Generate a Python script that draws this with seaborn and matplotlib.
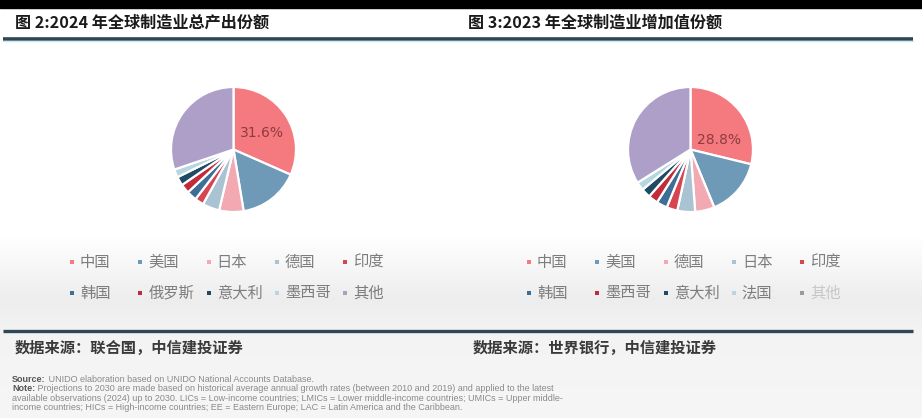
import numpy as np
import matplotlib
matplotlib.use("Agg")
import matplotlib.pyplot as plt
import seaborn as sns

# ---------------- data ----------------
title_1 = "图 2:2024 年全球制造业总产出份额"
title_2 = "图 3:2023 年全球制造业增加值份额"
labels_1 = ["中国", "美国", "日本", "德国", "印度", "韩国", "俄罗斯", "意大利", "墨西哥", "其他"]
values_1 = [31.6, 15.8, 6.3, 4.4, 2.3, 2.6, 2.4, 2.3, 2.1, 30.2]
labels_2 = ["中国", "美国", "德国", "日本", "印度", "韩国", "墨西哥", "意大利", "法国", "其他"]
values_2 = [28.8, 15.0, 5.0, 4.6, 2.8, 2.8, 2.5, 2.4, 2.2, 33.9]
highlight_1 = "31.6%"
highlight_2 = "28.8%"
source_1 = "数据来源：联合国，中信建投证券"
source_2 = "数据来源：世界银行，中信建投证券"
note_lines = [
    ("Source:", " UNIDO elaboration based on UNIDO National Accounts Database."),
    ("Note:", " Projections to 2030 are made based on historical average annual growth rates (between 2010 and 2019) and applied to the latest"),
    ("", "available observations (2024) up to 2030. LICs = Low-income countries; LMICs = Lower middle-income countries; UMICs = Upper middle-"),
    ("", "income countries; HICs = High-income countries; EE = Eastern Europe; LAC = Latin America and the Caribbean."),
]

# ---------------- style ----------------
C_CN = "#F47A7F"; C_US = "#6E9AB8"; C_PINK = "#F2A9B2"; C_LB = "#A9C3D2"
C_IN = "#D64550"; C_KR = "#3D6F96"; C_RED = "#C42B39"; C_NAVY = "#1E4A66"
C_PALE = "#B7D6E2"; C_OTH = "#AE9FC8"
colors_1 = sns.color_palette([C_CN, C_US, C_PINK, C_LB, C_IN, C_KR, C_RED, C_NAVY, C_PALE, C_OTH])
colors_2 = sns.color_palette([C_CN, C_US, C_PINK, C_LB, C_IN, C_KR, C_RED, C_NAVY, C_PALE, C_OTH])

sns.set_theme(style="white")
plt.rcParams["font.family"] = ["Noto Sans CJK SC", "DejaVu Sans"]

W, H = 922, 418
fig = plt.figure(figsize=(W / 100, H / 100), dpi=100)

# background canvas in pixel coordinates
bg = fig.add_axes([0, 0, 1, 1])
bg.set_xlim(0, W)
bg.set_ylim(H, 0)
bg.axis("off")
ys = np.arange(H)
lvl = np.interp(ys, [0, 235, 300, 328, 340, 418], [1.0, 1.0, 0.93, 0.95, 0.955, 0.965])
grad = np.repeat(lvl[:, None, None], 3, axis=2)
bg.imshow(grad, extent=[0, W, H, 0], aspect="auto", zorder=0)
bg.fill_between([0, W], 0, 7.5, color="black", zorder=1)

# titles + header rules
for x0, t in [(15, title_1), (468, title_2)]:
    bg.text(x0, 23, t, fontsize=11.6, fontweight="bold", color="#1a1a1a", va="center", ha="left", zorder=3)
bg.plot([3, 913], [38.5, 38.5], color="#2E4656", lw=2.6, solid_capstyle="butt", zorder=3)
bg.plot([3, 913], [41, 41], color="#CDE6F0", lw=1.0, zorder=3)

# pies
def draw_pie(cx, cy, r, vals, cols, label, lx, ly):
    pad = 4
    ax = fig.add_axes([(cx - r - pad) / W, 1 - (cy + r + pad) / H, 2 * (r + pad) / W, 2 * (r + pad) / H])
    ax.set_zorder(2)
    ax.pie(vals, colors=cols, startangle=90, counterclock=False, radius=1,
           wedgeprops=dict(edgecolor="white", linewidth=1.6))
    lim = (r + pad) / r
    ax.set_xlim(-lim, lim)
    ax.set_ylim(-lim, lim)
    ax.set_aspect("equal")
    ax.axis("off")
    ax.text(lx, ly, label, fontsize=10, color="#8E3B3E", ha="center", va="center", family="DejaVu Sans")

draw_pie(233.5, 149.5, 62.5, values_1, colors_1, highlight_1, 0.46, 0.26)
draw_pie(690.5, 149.5, 62.5, values_2, colors_2, highlight_2, 0.45, 0.16)

# legends
def draw_legend(x0, labels, cols, last_faded=False):
    for i, (lab, c) in enumerate(zip(labels, cols)):
        row, col = divmod(i, 5)
        x = x0 + col * 68.3
        y = 262 if row == 0 else 293
        mc = c
        alpha = 1.0
        if last_faded and i == len(labels) - 1:
            mc = "#9a9a9a"; alpha = 0.35
        bg.scatter([x], [y], marker="s", s=10, color=mc, linewidths=0, zorder=4)
        bg.text(x + 8, y, lab, fontsize=11, color="#7d7d7d", ha="left", va="center", zorder=4, alpha=alpha)

draw_legend(72, labels_1, colors_1)
draw_legend(529, labels_2, colors_2, last_faded=True)

# bottom rule and sources
bg.plot([3, 913], [330.5, 330.5], color="#2E4656", lw=2.4, solid_capstyle="butt", zorder=3)
bg.text(15, 348, source_1, fontsize=11, color="#3a3a3a", style="italic", fontweight="bold", ha="left", va="center", zorder=3)
bg.text(473, 348, source_2, fontsize=11, color="#3a3a3a", style="italic", fontweight="bold", ha="left", va="center", zorder=3)

# English notes
FS = 6.5
for k, (bold, rest) in enumerate(note_lines):
    y = 382 + k * 9.3
    if bold:
        t = bg.text(12, y, bold, fontsize=FS, color="#555555", fontweight="bold",
                    family="Liberation Sans", ha="left", va="baseline", zorder=3)
        bg.annotate(rest, xy=(1, 0), xycoords=t, fontsize=FS, color="#8a8a8a",
                    family="Liberation Sans", ha="left", va="bottom", zorder=3)
    else:
        bg.text(12, y, rest, fontsize=FS, color="#8a8a8a", family="Liberation Sans",
                ha="left", va="baseline", zorder=3)

fig.savefig("out.png", dpi=100)
